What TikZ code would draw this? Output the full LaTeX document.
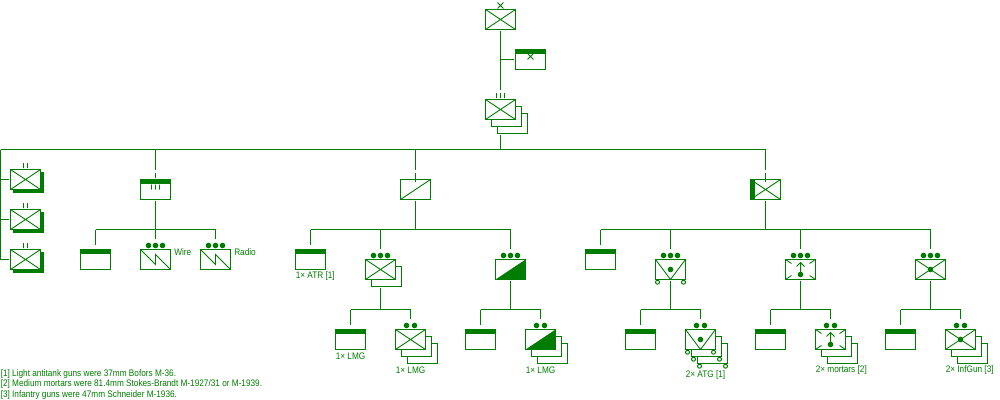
\documentclass[tikz,border=0pt]{standalone}
\usepackage{fontspec}
\setmainfont[FakeStretch=0.87]{Liberation Sans}
\usetikzlibrary{shapes.misc}
\definecolor{ug}{RGB}{0,125,0}
\newlength{\pxl}\setlength{\pxl}{0.75pt}
\newcommand{\ppb}{path picture bounding box}
\tikzset{
  conn/.style={draw=ug,line width=\pxl},
  gapped/.style={shorten >=3.5\pxl},
  unit/.style={draw=ug,fill=white,line width=\pxl,rectangle,minimum width=30\pxl,minimum height=20\pxl,inner sep=0pt,outer sep=1.5\pxl},
  thin mark/.style={draw=ug,line width=0.85\pxl},
  inf/.style={unit,path picture={\draw[thin mark] (\ppb.north west)--(\ppb.south east) (\ppb.north east)--(\ppb.south west);}},
  hdr/.style={unit,path picture={\fill[ug] (\ppb.north west) rectangle ([yshift=-4\pxl]\ppb.north east);}},
  leftbar/.style={unit,path picture={\draw[thin mark] (\ppb.north west)--(\ppb.south east) (\ppb.north east)--(\ppb.south west);\fill[ug] (\ppb.north west) rectangle ([xshift=4\pxl]\ppb.south west);}},
  atsym/.style={unit,path picture={\draw[thin mark] (\ppb.south west)--(\ppb.north east);}},
  mgsym/.style={unit,path picture={\fill[ug] (\ppb.south west)--(\ppb.north east)--(\ppb.south east)--cycle;}},
  atg/.style={unit,path picture={\draw[thin mark] (\ppb.north west)--(\ppb.south)--(\ppb.north east);}},
  mor/.style={unit,path picture={\draw[thin mark]
     (\ppb.north west)--+(6,4) (\ppb.north east)--+(-6,4)
     (\ppb.south west)--+(6,-4) (\ppb.south east)--+(-6,-4);}},
  wire/.style={unit,path picture={\draw[thin mark] (\ppb.north west)--+(15,15)--+(15,5)--(\ppb.south east);}},
  shad/.style={fill=ug,draw=ug,line width=\pxl,rectangle,minimum width=30\pxl,minimum height=20\pxl,inner sep=0pt},
  dot/.style={circle,fill=ug,inner sep=0pt,minimum size=5.6\pxl,outer sep=3.5\pxl},
  bar/.style={draw=ug,line width=\pxl,rectangle,minimum width=0pt,minimum height=5\pxl,inner sep=0pt,outer sep=3.5\pxl},
  exx/.style={cross out,draw=ug,line width=0.9\pxl,minimum size=5\pxl,inner sep=0pt},
  wheel/.style={circle,draw=ug,fill=white,line width=\pxl,inner sep=0pt,minimum size=4\pxl},
  lab/.style={text=ug,font=\fontsize{7.1pt}{8pt}\selectfont,anchor=west,inner sep=0pt},
}
\newcommand{\threedots}[3]{%
  \node[dot] (#1) at (#2,#3) {};
  \node[dot] (#1l) at (#2-7,#3) {};
  \node[dot] (#1r) at (#2+7,#3) {};}
\newcommand{\twodots}[3]{%
  \node[dot] (#1l) at (#2-4,#3) {};
  \node[dot] (#1r) at (#2+4,#3) {};
  \coordinate (#1) at (#2,#3-7);}
\newcommand{\backs}[4]{% name x y style
  \node[#4] (#1b) at (#2+12,#3+14) {};
  \node[#4] (#1a) at (#2+6,#3+7) {};}
\newcommand{\whl}[3]{%
  \node[wheel] (#1l) at (#2-13,#3+12.7) {};
  \node[wheel] (#1r) at (#2+13,#3+12.7) {};}
\begin{document}
\begin{tikzpicture}[x=0.75pt,y=-0.75pt]
\useasboundingbox[fill=white] (0,0) rectangle (1000,400);
% --- brigade HQ
\node[exx] (xtop) at (500.5,5.5) {};
\node[inf] (bde) at (500.5,19.5) {};
\node[hdr] (hq) at (530.5,59.5) {};
\node[exx] (hqx) at (530.5,56.5) {};
\node[bar] (rb) at (500.5,95.5) {};
\node[bar] (rbl) at (496.5,95.5) {};
\node[bar] (rbr) at (504.5,95.5) {};
\backs{reg}{500.5}{109.5}{unit}
\node[inf] (reg) at (500.5,109.5) {};
\coordinate (hqj) at (500.5,59.5);
\draw[conn] (bde) -- (rb);
\draw[conn] (hqj) -- (hq);
% --- main bus
\coordinate (busL) at (0.5,149.5);
\coordinate (busM) at (500.5,149.5);
\coordinate (bus1) at (155.5,149.5);
\coordinate (bus2) at (415.5,149.5);
\coordinate (bus3) at (765.5,149.5);
\draw[conn] (regb.south -| reg) -- (busM);
\draw[conn] (busL) -- (bus3);
% --- left battalions
\foreach \n/\y in {a/179.5,b/219.5,c/259.5}{
  \node[shad] (s\n) at (28.5,\y+3) {};
  \node[inf] (bn\n) at (25.5,\y) {};
  \node[bar] (bn\n p) at (23.5,\y-14) {};
  \node[bar] (bn\n q) at (27.5,\y-14) {};
  \coordinate (j\n) at (0.5,\y);
  \draw[conn] (j\n) -- (bn\n);
}
\draw[conn] (busL) -- (jc);
% --- signal company
\node[bar] (b1) at (155.5,175.5) {};
\node[hdr] (sig) at (155.5,189.5) {};
\node[bar] (s1) at (151.5,187) {};
\node[bar] (s2) at (155.5,187) {};
\node[bar] (s3) at (159.5,187) {};
\coordinate (sigb) at (155.5,229.5);
\coordinate (sigL) at (95.5,229.5);
\coordinate (sigR) at (215.5,229.5);
\node[hdr] (sig0) at (95.5,259.5) {};
\threedots{dw}{155.5}{245.5}
\threedots{dr}{215.5}{245.5}
\node[wire] (sigw) at (155.5,259.5) {};
\node[wire] (sigr) at (215.5,259.5) {};
\node[lab] (tw) at (174,252.5) {Wire};
\node[lab] (tr) at (234,252.5) {Radio};
\draw[conn] (bus1) -- (b1);
\draw[conn] (sig) -- (sigb);
\draw[conn] (sigL) -- (sigR);
\draw[conn,gapped] (sigL) -- (sig0);
\draw[conn] (sigb) -- (dw);
\draw[conn] (sigR) -- (dr);
% --- AT company
\node[bar] (b2) at (415.5,175.5) {};
\node[atsym] (atc) at (415.5,189.5) {};
\coordinate (atj) at (415.5,229.5);
\coordinate (atL) at (310.5,229.5);
\coordinate (atM) at (380.5,229.5);
\coordinate (atR) at (510.5,229.5);
\node[hdr] (atr) at (310.5,259.5) {};
\node[lab] (tatr) at (295.5,276.5) {1× ATR [1]};
\threedots{dp}{380.5}{255.5}
\node[unit] (pla) at (386.5,276.5) {};
\node[inf] (pl) at (380.5,269.5) {};
\threedots{dm}{510.5}{255.5}
\node[mgsym] (mg) at (510.5,269.5) {};
\draw[conn] (b2) -- (atc);
\draw[conn] (atc) -- (atj);
\draw[conn] (atL) -- (atR);
\draw[conn,gapped] (atL) -- (atr);
\draw[conn] (atM) -- (dp);
\draw[conn] (atR) -- (dm);
% below pl
\coordinate (plj) at (380.5,309.5);
\coordinate (plL) at (350.5,309.5);
\coordinate (plR) at (410.5,309.5);
\node[hdr] (pl0) at (350.5,339.5) {};
\node[lab] (tl1) at (335.5,356.5) {1× LMG};
\twodots{dq}{410.5}{325.5}
\backs{ps}{410.5}{339.5}{unit}
\node[inf] (ps) at (410.5,339.5) {};
\node[lab] (tl2) at (395.5,370) {1× LMG};
\draw[conn] (pla.south -| pl) -- (plj);
\draw[conn] (plL) -- (plR);
\draw[conn,gapped] (plL) -- (pl0);
\draw[conn] (plR) -- (dq);
% below mg
\coordinate (mgj) at (510.5,309.5);
\coordinate (mgL) at (480.5,309.5);
\coordinate (mgR) at (540.5,309.5);
\node[hdr] (mg0) at (480.5,339.5) {};
\twodots{dn}{540.5}{325.5}
\backs{ms}{540.5}{339.5}{unit}
\node[mgsym] (ms) at (540.5,339.5) {};
\node[lab] (tl3) at (525.5,370) {1× LMG};
\draw[conn] (mg) -- (mgj);
\draw[conn] (mgL) -- (mgR);
\draw[conn,gapped] (mgL) -- (mg0);
\draw[conn] (mgR) -- (dn);
% --- heavy company
\node[bar] (b3) at (765.5,175.5) {};
\node[leftbar] (hv) at (765.5,189.5) {};
\coordinate (hvj) at (765.5,229.5);
\coordinate (hvL) at (600.5,229.5);
\coordinate (hvA) at (670.5,229.5);
\coordinate (hvB) at (800.5,229.5);
\coordinate (hvC) at (930.5,229.5);
\node[hdr] (hv0) at (600.5,259.5) {};
\threedots{da}{670.5}{255.5}
\threedots{db}{800.5}{255.5}
\threedots{dc}{930.5}{255.5}
\node[atg] (ga) at (670.5,269.5) {};
\node[dot] (gad) at (670.5,269.5) {};
\whl{gaw}{670.5}{269.5}
\node[mor] (gb) at (800.5,269.5) {};
\node[dot] (gbd) at (800.5,274.5) {};
\coordinate (gbt) at (800.5,262.5);
\draw[ug,line width=\pxl] (gbd.center) -- (gbt) (796.5,266.5) -- (gbt) -- (804.5,266.5);
\node[inf] (gc) at (930.5,269.5) {};
\node[dot] (gcd) at (930.5,269.5) {};
\draw[conn] (b3) -- (hv);
\draw[conn] (hv) -- (hvj);
\draw[conn] (hvL) -- (hvC);
\draw[conn] (bus3) -- (b3);
\draw[conn] (bus2) -- (b2);
\draw[conn,gapped] (hvL) -- (hv0);
\draw[conn] (hvA) -- (da);
\draw[conn] (hvB) -- (db);
\draw[conn] (hvC) -- (dc);
% lower groups
\foreach \p/\xa/\xb/\xc in {ga/640.5/670.5/700.5,gb/770.5/800.5/830.5,gc/900.5/930.5/960.5}{
  \coordinate (\p j) at (\xb,309.5);
  \coordinate (\p L) at (\xa,309.5);
  \coordinate (\p R) at (\xc,309.5);
  \node[hdr] (\p 0) at (\xa,339.5) {};
  \twodots{\p d2}{\xc}{325.5}
  \draw[conn] (\p) -- (\p j);
  \draw[conn] (\p L) -- (\p R);
  \draw[conn,gapped] (\p L) -- (\p 0);
  \draw[conn] (\p R) -- (\p d2);
}
\node[unit] (gasb) at (712.5,353.5) {};
\whl{gasbw}{712.5}{353.5}
\node[unit] (gasa) at (706.5,346.5) {};
\whl{gasaw}{706.5}{346.5}
\node[atg] (gas) at (700.5,339.5) {};
\node[dot] (gasd) at (700.5,339.5) {};
\whl{gasw}{700.5}{339.5}
\backs{gbs}{830.5}{339.5}{unit}
\node[mor] (gbs) at (830.5,339.5) {};
\node[dot] (gbsd) at (830.5,344.5) {};
\coordinate (gbst) at (830.5,332.5);
\draw[ug,line width=\pxl] (gbsd.center) -- (gbst) (826.5,336.5) -- (gbst) -- (834.5,336.5);
\backs{gcs}{960.5}{339.5}{unit}
\node[inf] (gcs) at (960.5,339.5) {};
\node[dot] (gcsd) at (960.5,339.5) {};
\node[lab] (t2a) at (685.5,375) {2× ATG [1]};
\node[lab] (t2b) at (815.5,370) {2× mortars [2]};
\node[lab] (t2c) at (945.5,370) {2× InfGun [3]};
% --- footnotes
\node[lab] (f1) at (0.5,374) {[1] Light antitank guns were 37mm Bofors M-36.};
\node[lab] (f2) at (0.5,384.5) {[2] Medium mortars were 81.4mm Stokes-Brandt M-1927/31 or M-1939.};
\node[lab] (f3) at (0.5,395) {[3] Infantry guns were 47mm Schneider M-1936.};
\end{tikzpicture}
\end{document}
